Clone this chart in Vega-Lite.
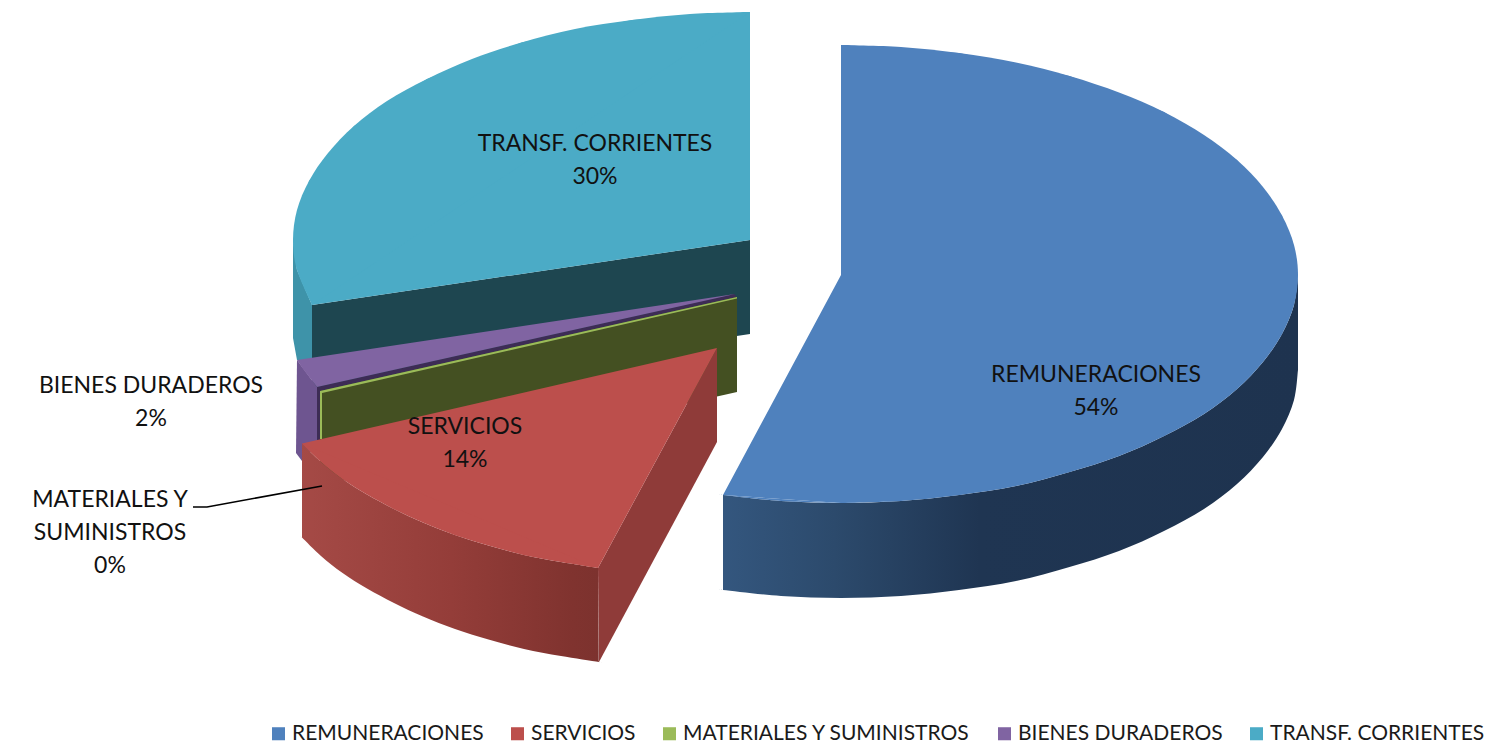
{"$schema":"https://vega.github.io/schema/vega-lite/v6.json","width":1506,"height":751,"padding":0,"autosize":"none","background":"white","view":{"stroke":null},
"encoding":{"x":{"field":"x","type":"quantitative","scale":{"domain":[0,1506],"nice":false,"zero":false},"axis":null},"y":{"field":"y","type":"quantitative","scale":{"domain":[751,0],"nice":false,"zero":false},"axis":null},"order":{"field":"i","type":"quantitative"}},
"layer":[
{"mark":{"type":"line","fill":"#3e93a9","strokeWidth":0},"data":{"values":[{"i":0,"x":293,"y":240},{"i":1,"x":297,"y":270},{"i":2,"x":312,"y":305},{"i":3,"x":312,"y":362},{"i":4,"x":297,"y":360},{"i":5,"x":293,"y":338},{"i":6,"x":293,"y":240}]}},
{"mark":{"type":"line","fill":"#1e4650","strokeWidth":0},"data":{"values":[{"i":0,"x":750,"y":240},{"i":1,"x":312,"y":305},{"i":2,"x":312,"y":400},{"i":3,"x":750,"y":334},{"i":4,"x":750,"y":240}]}},
{"mark":{"type":"line","fill":"#6e5590","strokeWidth":0},"data":{"values":[{"i":0,"x":297,"y":360},{"i":1,"x":317,"y":387},{"i":2,"x":317,"y":445},{"i":3,"x":302,"y":461},{"i":4,"x":296,"y":453},{"i":5,"x":297,"y":360}]}},
{"mark":{"type":"line","fill":"#3d2c55","strokeWidth":0},"data":{"values":[{"i":0,"x":317,"y":387},{"i":1,"x":734,"y":294},{"i":2,"x":737,"y":297},{"i":3,"x":320,"y":391},{"i":4,"x":320,"y":445},{"i":5,"x":317,"y":445},{"i":6,"x":317,"y":387}]}},
{"mark":{"type":"line","fill":"#445022","strokeWidth":0},"data":{"values":[{"i":0,"x":737,"y":297},{"i":1,"x":737,"y":392},{"i":2,"x":320,"y":486},{"i":3,"x":320,"y":391},{"i":4,"x":737,"y":297}]}},
{"mark":{"type":"line","fill":"#9bbb59","strokeWidth":0},"data":{"values":[{"i":0,"x":320,"y":391},{"i":1,"x":737,"y":297},{"i":2,"x":737,"y":298.5},{"i":3,"x":322,"y":393},{"i":4,"x":322,"y":439},{"i":5,"x":320,"y":439},{"i":6,"x":320,"y":391}]}},
{"mark":{"type":"line","fill":"#8064a2","strokeWidth":0},"data":{"values":[{"i":0,"x":735,"y":294},{"i":1,"x":297,"y":360},{"i":2,"x":303,"y":369},{"i":3,"x":310,"y":378},{"i":4,"x":317,"y":387},{"i":5,"x":735,"y":294}]}},
{"mark":{"type":"line","fill":"#8f3b39","strokeWidth":0},"data":{"values":[{"i":0,"x":717,"y":348},{"i":1,"x":717,"y":442},{"i":2,"x":599,"y":662},{"i":3,"x":598,"y":568},{"i":4,"x":717,"y":348}]}},
{"mark":{"type":"line","interpolate":"cardinal","strokeWidth":0,"fill":{"gradient":"linear","x1":0,"x2":1,"y1":0,"y2":0,"stops":[{"offset":0,"color":"#a54a46"},{"offset":0.5,"color":"#943d39"},{"offset":0.9,"color":"#80332f"},{"offset":1,"color":"#7c322e"}]}},"data":{"values":[{"i":0,"x":598,"y":568},{"i":1,"x":561,"y":562},{"i":2,"x":524,"y":555},{"i":3,"x":488.5,"y":545.5},{"i":4,"x":455,"y":535},{"i":5,"x":423,"y":522.6},{"i":6,"x":394,"y":509},{"i":7,"x":367,"y":494.6},{"i":8,"x":342.6,"y":479},{"i":9,"x":321,"y":462},{"i":10,"x":302,"y":443.6},{"i":10.1,"x":302,"y":443.6},{"i":10.2,"x":302,"y":443.6},{"i":11,"x":302,"y":537.6},{"i":11.1,"x":302,"y":537.6},{"i":11.2,"x":302,"y":537.6},{"i":12,"x":321,"y":556},{"i":13,"x":342.6,"y":573},{"i":14,"x":367,"y":588.6},{"i":15,"x":394,"y":603},{"i":16,"x":423,"y":616.6},{"i":17,"x":455,"y":629},{"i":18,"x":488.5,"y":639.5},{"i":19,"x":524,"y":649},{"i":20,"x":561,"y":656},{"i":21,"x":599,"y":662},{"i":21.1,"x":599,"y":662},{"i":21.2,"x":599,"y":662},{"i":22,"x":598,"y":568}]}},
{"mark":{"type":"line","interpolate":"cardinal","strokeWidth":0,"fill":{"gradient":"linear","x1":0,"x2":1,"y1":0,"y2":0,"stops":[{"offset":0,"color":"#34577f"},{"offset":0.2,"color":"#2c4a6c"},{"offset":0.45,"color":"#1f3552"},{"offset":1,"color":"#1e334f"}]}},"data":{"values":[{"i":0,"x":1298,"y":275},{"i":1,"x":1294,"y":305},{"i":2,"x":1282,"y":334},{"i":3,"x":1263,"y":362},{"i":4,"x":1237,"y":389},{"i":5,"x":1204,"y":414},{"i":6,"x":1164,"y":436},{"i":7,"x":1119,"y":456},{"i":8,"x":1069.5,"y":472},{"i":9,"x":1016,"y":486},{"i":10,"x":959,"y":495},{"i":11,"x":901,"y":501},{"i":12,"x":841,"y":503},{"i":13,"x":781,"y":501},{"i":14,"x":723,"y":495},{"i":14.1,"x":723,"y":495},{"i":14.2,"x":723,"y":495},{"i":15,"x":723,"y":590},{"i":15.1,"x":723,"y":590},{"i":15.2,"x":723,"y":590},{"i":16,"x":781,"y":596},{"i":17,"x":841,"y":598},{"i":18,"x":901,"y":596},{"i":19,"x":959,"y":590},{"i":20,"x":1016,"y":581},{"i":21,"x":1069.5,"y":567},{"i":22,"x":1119,"y":551},{"i":23,"x":1164,"y":531},{"i":24,"x":1204,"y":509},{"i":25,"x":1237,"y":484},{"i":26,"x":1263,"y":457},{"i":27,"x":1282,"y":429},{"i":28,"x":1294,"y":400},{"i":29,"x":1298,"y":370},{"i":29.1,"x":1298,"y":370},{"i":29.2,"x":1298,"y":370},{"i":30,"x":1298,"y":275}]}},
{"mark":{"type":"line","fill":"#4f81bd","strokeWidth":0},"data":{"values":[{"i":0,"x":841,"y":275},{"i":1,"x":841,"y":45},{"i":2,"x":959,"y":53},{"i":3,"x":1069.5,"y":76},{"i":4,"x":1164,"y":112},{"i":5,"x":1237,"y":160},{"i":6,"x":1282,"y":215.5},{"i":7,"x":1298,"y":275},{"i":8,"x":1282,"y":334},{"i":9,"x":1237,"y":389},{"i":10,"x":1164,"y":436},{"i":11,"x":1069.5,"y":472},{"i":12,"x":959,"y":495},{"i":13,"x":841,"y":503},{"i":14,"x":723,"y":495},{"i":15,"x":841,"y":275}]}},
{"mark":{"type":"line","fill":"#bc4f4c","strokeWidth":0},"data":{"values":[{"i":0,"x":717,"y":348},{"i":1,"x":598,"y":568},{"i":2,"x":524,"y":555},{"i":3,"x":455,"y":535},{"i":4,"x":394,"y":509},{"i":5,"x":342.6,"y":479},{"i":6,"x":302,"y":443.6},{"i":7,"x":717,"y":348}]}},
{"mark":{"type":"line","fill":"#4babc6","strokeWidth":0},"data":{"values":[{"i":0,"x":750,"y":240},{"i":1,"x":750,"y":12},{"i":2,"x":632,"y":20},{"i":3,"x":521.5,"y":42.5},{"i":4,"x":427,"y":79},{"i":5,"x":354,"y":126},{"i":6,"x":309,"y":181},{"i":7,"x":293,"y":240},{"i":8,"x":312,"y":305},{"i":9,"x":750,"y":240}]}},
{"mark":{"type":"line","interpolate":"cardinal","strokeWidth":0},
"data":{"values":[
{"serie":"REMUNERACIONES","arco":"a","i":1,"x":841,"y":45},{"serie":"REMUNERACIONES","arco":"a","i":2,"x":901,"y":47},{"serie":"REMUNERACIONES","arco":"a","i":3,"x":959,"y":53},{"serie":"REMUNERACIONES","arco":"a","i":4,"x":1016,"y":62.5},{"serie":"REMUNERACIONES","arco":"a","i":5,"x":1069.5,"y":76},{"serie":"REMUNERACIONES","arco":"a","i":6,"x":1119,"y":92.5},{"serie":"REMUNERACIONES","arco":"a","i":7,"x":1164,"y":112},{"serie":"REMUNERACIONES","arco":"a","i":8,"x":1204,"y":135},{"serie":"REMUNERACIONES","arco":"a","i":9,"x":1237,"y":160},{"serie":"REMUNERACIONES","arco":"a","i":10,"x":1263,"y":187},{"serie":"REMUNERACIONES","arco":"a","i":11,"x":1282,"y":215.5},{"serie":"REMUNERACIONES","arco":"a","i":12,"x":1294,"y":245},{"serie":"REMUNERACIONES","arco":"a","i":13,"x":1298,"y":275},{"serie":"REMUNERACIONES","arco":"a","i":14,"x":1294,"y":305},{"serie":"REMUNERACIONES","arco":"a","i":15,"x":1282,"y":334},{"serie":"REMUNERACIONES","arco":"a","i":16,"x":1263,"y":362},{"serie":"REMUNERACIONES","arco":"a","i":17,"x":1237,"y":389},{"serie":"REMUNERACIONES","arco":"a","i":18,"x":1204,"y":414},{"serie":"REMUNERACIONES","arco":"a","i":19,"x":1164,"y":436},{"serie":"REMUNERACIONES","arco":"a","i":20,"x":1119,"y":456},{"serie":"REMUNERACIONES","arco":"a","i":21,"x":1069.5,"y":472},{"serie":"REMUNERACIONES","arco":"a","i":22,"x":1016,"y":486},{"serie":"REMUNERACIONES","arco":"a","i":23,"x":959,"y":495},{"serie":"REMUNERACIONES","arco":"a","i":24,"x":901,"y":501},{"serie":"REMUNERACIONES","arco":"a","i":25,"x":841,"y":503},
{"serie":"REMUNERACIONES","arco":"b","i":25,"x":841,"y":503},{"serie":"REMUNERACIONES","arco":"b","i":26,"x":781,"y":501},{"serie":"REMUNERACIONES","arco":"b","i":27,"x":723,"y":495},
{"serie":"SERVICIOS","arco":"a","i":1,"x":598,"y":568},{"serie":"SERVICIOS","arco":"a","i":2,"x":561,"y":562},{"serie":"SERVICIOS","arco":"a","i":3,"x":524,"y":555},{"serie":"SERVICIOS","arco":"a","i":4,"x":488.5,"y":545.5},{"serie":"SERVICIOS","arco":"a","i":5,"x":455,"y":535},{"serie":"SERVICIOS","arco":"a","i":6,"x":423,"y":522.6},{"serie":"SERVICIOS","arco":"a","i":7,"x":394,"y":509},{"serie":"SERVICIOS","arco":"a","i":8,"x":367,"y":494.6},{"serie":"SERVICIOS","arco":"a","i":9,"x":342.6,"y":479},{"serie":"SERVICIOS","arco":"a","i":10,"x":321,"y":462},{"serie":"SERVICIOS","arco":"a","i":11,"x":302,"y":443.6},
{"serie":"TRANSF. CORRIENTES","arco":"a","i":1,"x":750,"y":12},{"serie":"TRANSF. CORRIENTES","arco":"a","i":2,"x":690,"y":14},{"serie":"TRANSF. CORRIENTES","arco":"a","i":3,"x":632,"y":20},{"serie":"TRANSF. CORRIENTES","arco":"a","i":4,"x":575,"y":29},{"serie":"TRANSF. CORRIENTES","arco":"a","i":5,"x":521.5,"y":42.5},{"serie":"TRANSF. CORRIENTES","arco":"a","i":6,"x":472,"y":59},{"serie":"TRANSF. CORRIENTES","arco":"a","i":7,"x":427,"y":79},{"serie":"TRANSF. CORRIENTES","arco":"a","i":8,"x":387,"y":101},{"serie":"TRANSF. CORRIENTES","arco":"a","i":9,"x":354,"y":126},{"serie":"TRANSF. CORRIENTES","arco":"a","i":10,"x":328,"y":153},{"serie":"TRANSF. CORRIENTES","arco":"a","i":11,"x":309,"y":181},{"serie":"TRANSF. CORRIENTES","arco":"a","i":12,"x":297,"y":210},{"serie":"TRANSF. CORRIENTES","arco":"a","i":13,"x":293,"y":240},{"serie":"TRANSF. CORRIENTES","arco":"a","i":14,"x":297,"y":270},{"serie":"TRANSF. CORRIENTES","arco":"a","i":15,"x":312,"y":305}
]},
"encoding":{"detail":{"field":"arco","type":"nominal"},"fill":{"field":"serie","type":"nominal","scale":{"domain":["REMUNERACIONES","SERVICIOS","MATERIALES Y SUMINISTROS","BIENES DURADEROS","TRANSF. CORRIENTES"],"range":["#4f81bd","#bc4f4c","#9bbb59","#8064a2","#4babc6"]},"legend":{"title":null,"orient":"none","legendX":268,"legendY":723,"direction":"horizontal","columns":5,"symbolType":"square","symbolSize":170,"symbolStrokeWidth":0,"symbolOpacity":1,"labelFont":"Lato","labelFontSize":21,"labelColor":"#1a1a1a","labelOffset":3,"columnPadding":23,"labelLimit":400}}}},
{"mark":{"type":"line","stroke":"#000000","strokeWidth":1.6},"data":{"values":[{"i":0,"x":193,"y":507},{"i":1,"x":207,"y":507},{"i":2,"x":322,"y":486}]}},
{"mark":{"type":"text","font":"Lato","fontSize":23,"lineHeight":33,"lineBreak":"\n","align":"center","baseline":"middle","color":"#111111"},"data":{"values":[{"label":"REMUNERACIONES\n54%","x":1096,"y":375},{"label":"TRANSF. CORRIENTES\n30%","x":595,"y":144},{"label":"SERVICIOS\n14%","x":465,"y":427},{"label":"BIENES DURADEROS\n2%","x":151,"y":386},{"label":"MATERIALES Y\nSUMINISTROS\n0%","x":110,"y":500}]},"encoding":{"text":{"field":"label","type":"nominal"}}}
]}
